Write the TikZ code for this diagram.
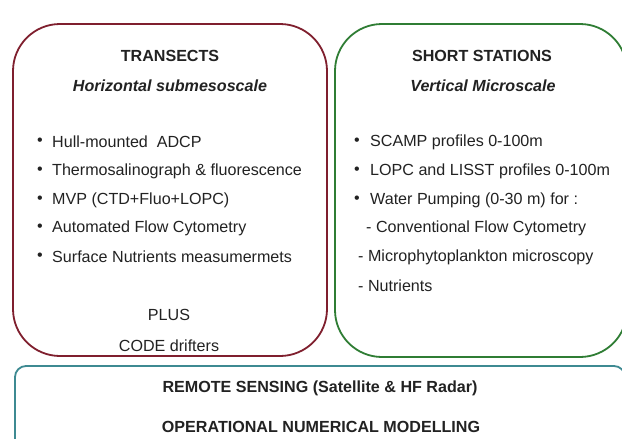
\documentclass[tikz,border=0pt]{standalone}
\usepackage{fontspec}
\setmainfont{Liberation Sans}
\definecolor{redline}{HTML}{7F1F2E}
\definecolor{greenline}{HTML}{2F7D34}
\definecolor{blueline}{HTML}{3E8A92}
\definecolor{txt}{HTML}{222222}
\begin{document}
\begin{tikzpicture}[x=1pt,y=-1pt,
  every node/.style={inner sep=0pt,text=txt,font=\fontsize{16.1}{19}\selectfont},
  panel/.style={draw,line width=1.8pt,rounded corners=47pt,inner sep=0pt},
  ttl/.style={font=\fontsize{16.1}{19}\selectfont\bfseries},
  sub/.style={font=\fontsize{16.1}{19}\selectfont\bfseries\itshape},
  item/.style={anchor=west},
  dot/.style={anchor=center}]
\useasboundingbox (0,0) rectangle (622,439);
\fill[white] (0,0) rectangle (622,439);
% panels
\node[panel,draw=redline,minimum width=314pt,minimum height=332pt] (transects) at (170,190) {};
\node[panel,draw=greenline,minimum width=292pt,minimum height=333pt] (stations) at (481,190.5) {};
\node[panel,draw=blueline,rounded corners=11pt,minimum width=610pt,minimum height=104pt] (remote) at (320,418) {};
% transects
\node[ttl] (t1) at (170,56) {TRANSECTS};
\node[sub] (t2) at (170,86) {Horizontal submesoscale};
\node[dot] (b1) at (40,142) {•};
\node[item] (i1) at (52,142) {Hull-mounted\ \ ADCP};
\node[dot] (b2) at (40,171) {•};
\node[item] (i2) at (52,171) {Thermosalinograph \& fluorescence};
\node[dot] (b3) at (40,200) {•};
\node[item] (i3) at (52,200) {MVP (CTD+Fluo+LOPC)};
\node[dot] (b4) at (40,228) {•};
\node[item] (i4) at (52,228) {Automated Flow Cytometry};
\node[dot] (b5) at (40,257) {•};
\node[item] (i5) at (52,257) {Surface Nutrients measumermets};
\node (p1) at (169,315) {PLUS};
\node (p2) at (169,346) {CODE drifters};
% stations
\node[ttl] (s1) at (482,56) {SHORT STATIONS};
\node[sub] (s2) at (483,86) {Vertical Microscale};
\node[dot] (c1) at (357,142) {•};
\node[item] (j1) at (370,142) {SCAMP profiles 0-100m};
\node[dot] (c2) at (357,171) {•};
\node[item] (j2) at (370,171) {LOPC and LISST profiles 0-100m};
\node[dot] (c3) at (357,200) {•};
\node[item] (j3) at (370,200) {Water Pumping (0-30 m) for :};
\node[item] (j4) at (366,228) {- Conventional Flow Cytometry};
\node[item] (j5) at (358,257) {- Microphytoplankton microscopy};
\node[item] (j6) at (358,286) {- Nutrients};
% remote
\node[ttl] (r1) at (320,388) {REMOTE SENSING (Satellite \& HF Radar)};
\node[ttl] (r2) at (321,427) {OPERATIONAL NUMERICAL MODELLING};
\end{tikzpicture}
\end{document}
